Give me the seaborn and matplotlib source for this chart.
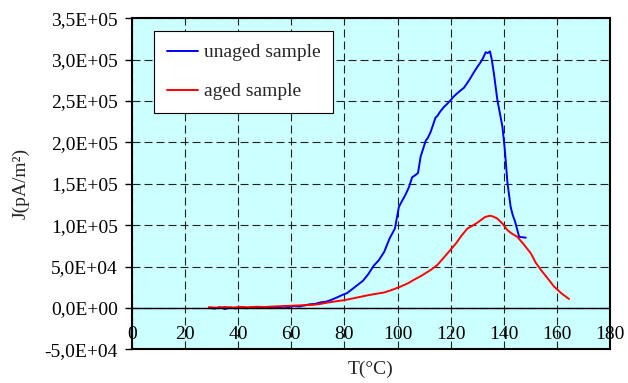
import matplotlib
matplotlib.use("Agg")
import matplotlib.pyplot as plt
from matplotlib.ticker import FuncFormatter, MultipleLocator
import pandas as pd
import seaborn as sns

# unaged sample, T in degC, J in pA/m2
unaged_t = [29, 31, 33, 35, 37, 39, 41, 43, 45, 47, 49, 51, 53, 55, 57, 59, 61, 63, 65, 67,
            69, 71, 73, 75, 77, 79, 81, 83, 85, 87, 89, 91, 93, 95, 97, 99, 100.5, 101.8, 103,
            104.3, 105.5, 106.5, 107.7, 108.7, 110.6, 111.5, 112.5, 114.3, 115, 116, 117.5,
            118.5, 120, 121, 122, 123.8, 125, 126.3, 127.5, 128.8, 130, 131.3, 132.2, 133.2,
            134, 134.8, 135.5, 136.3, 137.6, 138.5, 139.5, 140.4, 141.4, 142.6, 143.4, 144.2,
            145.8, 147, 148.3]
unaged_j = [500, -800, 1000, -1200, 600, -500, 1200, -300, 800, 200, 1000, 400, 1200, 800,
            1600, 1200, 2400, 1800, 3200, 4500, 5000, 6800, 7500, 9800, 12500, 15500, 18000,
            23000, 28000, 33000, 41000, 51000, 58000, 68000, 84000, 96000, 122000, 130000,
            137000, 146000, 158000, 160000, 163000, 183000, 202000, 206000, 213000, 230000,
            232000, 237000, 243000, 246000, 251000, 255000, 258000, 263000, 266000, 272000,
            278000, 285000, 291000, 297000, 302000, 309000, 308000, 310000, 300000, 283000,
            251000, 236000, 219000, 191000, 151000, 122000, 112000, 105000, 86000, 85500, 85000]

# aged sample
aged_t = [29, 32, 35, 38, 41, 44, 47, 50, 53, 56, 59, 62, 65, 68, 71, 74, 77, 80, 83, 86, 89,
          92, 95, 98, 101, 104, 106, 109, 112.5, 115, 118.8, 122, 124, 126.3, 128, 130, 131.3,
          133, 134.8, 136, 137.6, 139.5, 141.4, 143, 145.1, 147.5, 150.2, 152, 154, 156, 159,
          162, 164.6]
aged_j = [1000, 400, 1200, 600, 1300, 900, 1500, 1200, 1800, 2200, 2600, 3000, 3400, 3800,
          5000, 6800, 8200, 9500, 11500, 13500, 15500, 17200, 18800, 22000, 25700, 30000,
          33800, 39000, 46000, 52000, 66000, 78000, 87000, 96000, 99000, 103000, 106000,
          110000, 111500, 110500, 108000, 102000, 94000, 90000, 86000, 77000, 66000, 55000,
          46000, 38000, 25700, 17000, 10900]

labels = ["unaged sample", "aged sample"]
colors = ["#0000FF", "#FF0000"]

df = pd.concat([
    pd.DataFrame({"T": unaged_t, "J": unaged_j, "sample": labels[0]}),
    pd.DataFrame({"T": aged_t, "J": aged_j, "sample": labels[1]}),
], ignore_index=True)

sns.set_style("white")
plt.rcParams["font.family"] = ["Liberation Serif", "DejaVu Serif"]
plt.rcParams["font.size"] = 14

fig = plt.figure(figsize=(6.28, 3.83), dpi=100)
ax = fig.add_axes([0.2102, 0.0877, 0.7611, 0.8646])
ax.set_facecolor("#CCFFFF")

sns.lineplot(data=df, x="T", y="J", hue="sample", hue_order=labels,
             palette=dict(zip(labels, colors)), sort=False, estimator=None,
             linewidth=1.4, ax=ax)

ax.set_xlim(0, 180)
ax.set_ylim(-50000, 350000)
ax.xaxis.set_major_locator(MultipleLocator(20))
ax.yaxis.set_major_locator(MultipleLocator(50000))
ax.yaxis.set_major_formatter(FuncFormatter(lambda v, p: f"{v:.1E}".replace(".", ",")))

ax.grid(True, color="#222222", linewidth=0.8, linestyle=(0, (7.2, 3.6)))
ax.axhline(0, color="black", linewidth=1.0)

for s in ax.spines.values():
    s.set_visible(True)
    s.set_color("black")
    s.set_linewidth(1.5)

ax.tick_params(axis="y", direction="out", length=5, width=1, pad=5, left=True,
               labelsize=14, colors="black")
ax.tick_params(axis="x", direction="in", length=0, pad=-17, labelsize=14, colors="black")

ax.set_xlabel("T(°C)", fontsize=14)
ax.set_ylabel("J(pA/m²)", fontsize=14)
ax.xaxis.set_label_coords(0.5, -0.035)
ax.yaxis.set_label_coords(-0.215, 0.5)

leg = ax.legend(loc="upper left", bbox_to_anchor=(0.046, 0.961), borderaxespad=0,
                frameon=True, fancybox=False, framealpha=1, edgecolor="black",
                fontsize=14, handlelength=1.6, handletextpad=0.3, labelspacing=1.1,
                borderpad=0.65)
leg.get_frame().set_linewidth(0.8)

fig.savefig("out.png", dpi=100)
